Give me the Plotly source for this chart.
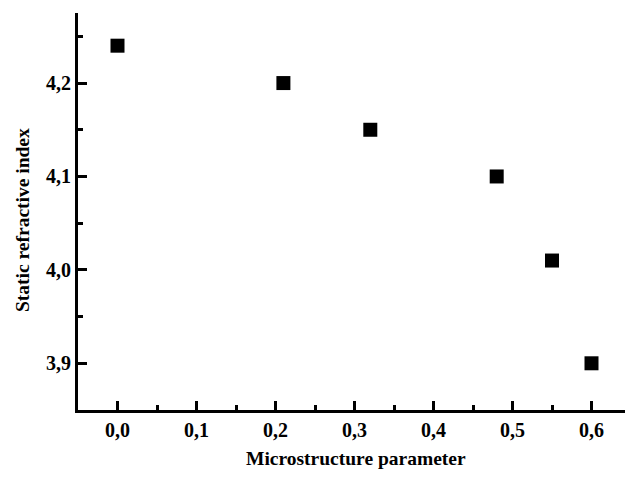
import plotly.graph_objects as go

x_vals = [0.0, 0.21, 0.32, 0.48, 0.55, 0.60]
y_vals = [4.24, 4.20, 4.15, 4.10, 4.01, 3.90]
x_ticks = [0.0, 0.1, 0.2, 0.3, 0.4, 0.5, 0.6]
y_ticks = [3.9, 4.0, 4.1, 4.2]
x_title = "Microstructure parameter"
y_title = "Static refractive index"

font = "Liberation Serif"


def tick_text(vals):
    return ["<b>" + f"{v:.1f}".replace(".", ",") + "</b>" for v in vals]


fig = go.Figure()
fig.add_trace(go.Scatter(
    x=x_vals, y=y_vals, mode="markers",
    marker=dict(symbol="square", size=14, color="black", line=dict(width=0)),
    showlegend=False, cliponaxis=False,
))

axis_common = dict(
    showline=True, linewidth=3, linecolor="black", mirror=False,
    showgrid=False, zeroline=False,
    ticks="inside", ticklen=9, tickwidth=3, tickcolor="black",
    tickmode="array",
    tickfont=dict(family=font, size=20, color="black"),
)

fig.update_layout(
    width=625, height=477,
    margin=dict(l=78, r=0, t=13, b=67),
    paper_bgcolor="white", plot_bgcolor="white",
    xaxis=dict(range=[-0.05, 0.6424], tickvals=x_ticks, ticktext=tick_text(x_ticks),
               minor=dict(dtick=0.05, tick0=0, ticks="inside", ticklen=5, tickwidth=3, tickcolor="black", showgrid=False),
               **axis_common),
    yaxis=dict(range=[3.85, 4.275], tickvals=y_ticks, ticktext=tick_text(y_ticks),
               minor=dict(dtick=0.05, tick0=3.85, ticks="inside", ticklen=5, tickwidth=3, tickcolor="black", showgrid=False),
               **axis_common),
    annotations=[
        dict(text="<b>" + x_title + "</b>", xref="paper", yref="paper", x=(356 - 78) / 547, y=-(458 - 410) / 397,
             xanchor="center", yanchor="middle", showarrow=False,
             font=dict(family=font, size=19.5, color="black")),
        dict(text="<b>" + y_title + "</b>", xref="paper", yref="paper", x=-(78 - 22) / 547, y=(410 - 220) / 397,
             xanchor="center", yanchor="middle", showarrow=False, textangle=-90,
             font=dict(family=font, size=19.5, color="black")),
    ],
)

fig.write_html("out.html")
